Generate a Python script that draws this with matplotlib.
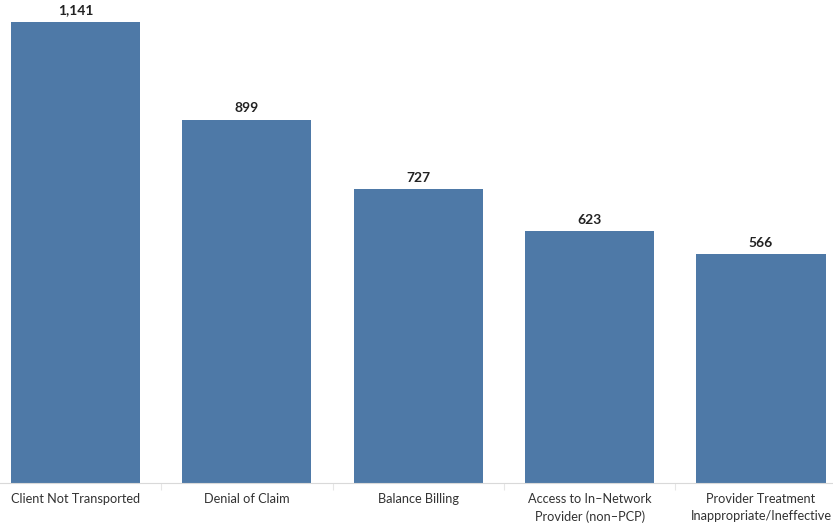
import matplotlib.pyplot as plt

categories = ['Client Not Transported', 'Denial of Claim', 'Balance Billing',
              'Access to In\u2013Network\nProvider (non\u2013PCP)',
              'Provider Treatment\nInappropriate/Ineffective']
counts = [1141, 899, 727, 623, 566]

plt.rcParams['font.family'] = ['Lato', 'DejaVu Sans']

fig = plt.figure(figsize=(8.33, 5.23), dpi=100)
ax = fig.add_axes([0, 40 / 523, 1, 483 / 523])

x = list(range(len(categories)))
bars = ax.bar(x, counts, width=0.753, color='#4e79a7')

for b, v in zip(bars, counts):
    ax.text(b.get_x() + b.get_width() / 2, v + 14, f'{v:,}',
            ha='center', va='bottom', fontsize=10, fontweight='bold', color='#222222')

ax.set_xlim(-0.44, 4.42)
ax.set_ylim(0, 1195.5)
ax.set_yticks([])
ax.set_xticks(x)
ax.set_xticklabels(categories, fontsize=9.2, color='#333333', linespacing=1.5)
ax.tick_params(axis='x', which='major', length=0, pad=7)
ax.set_xticks([i + 0.5 for i in range(len(categories) - 1)], minor=True)
ax.tick_params(axis='x', which='minor', length=5, color='#e6e6e6', width=0.8)

for s in ['top', 'right', 'left']:
    ax.spines[s].set_visible(False)
ax.spines['bottom'].set_color('#d9d9d9')
ax.spines['bottom'].set_linestyle((0, (1, 1)))
ax.spines['bottom'].set_linewidth(0.8)

fig.savefig('out.png', dpi=100)
